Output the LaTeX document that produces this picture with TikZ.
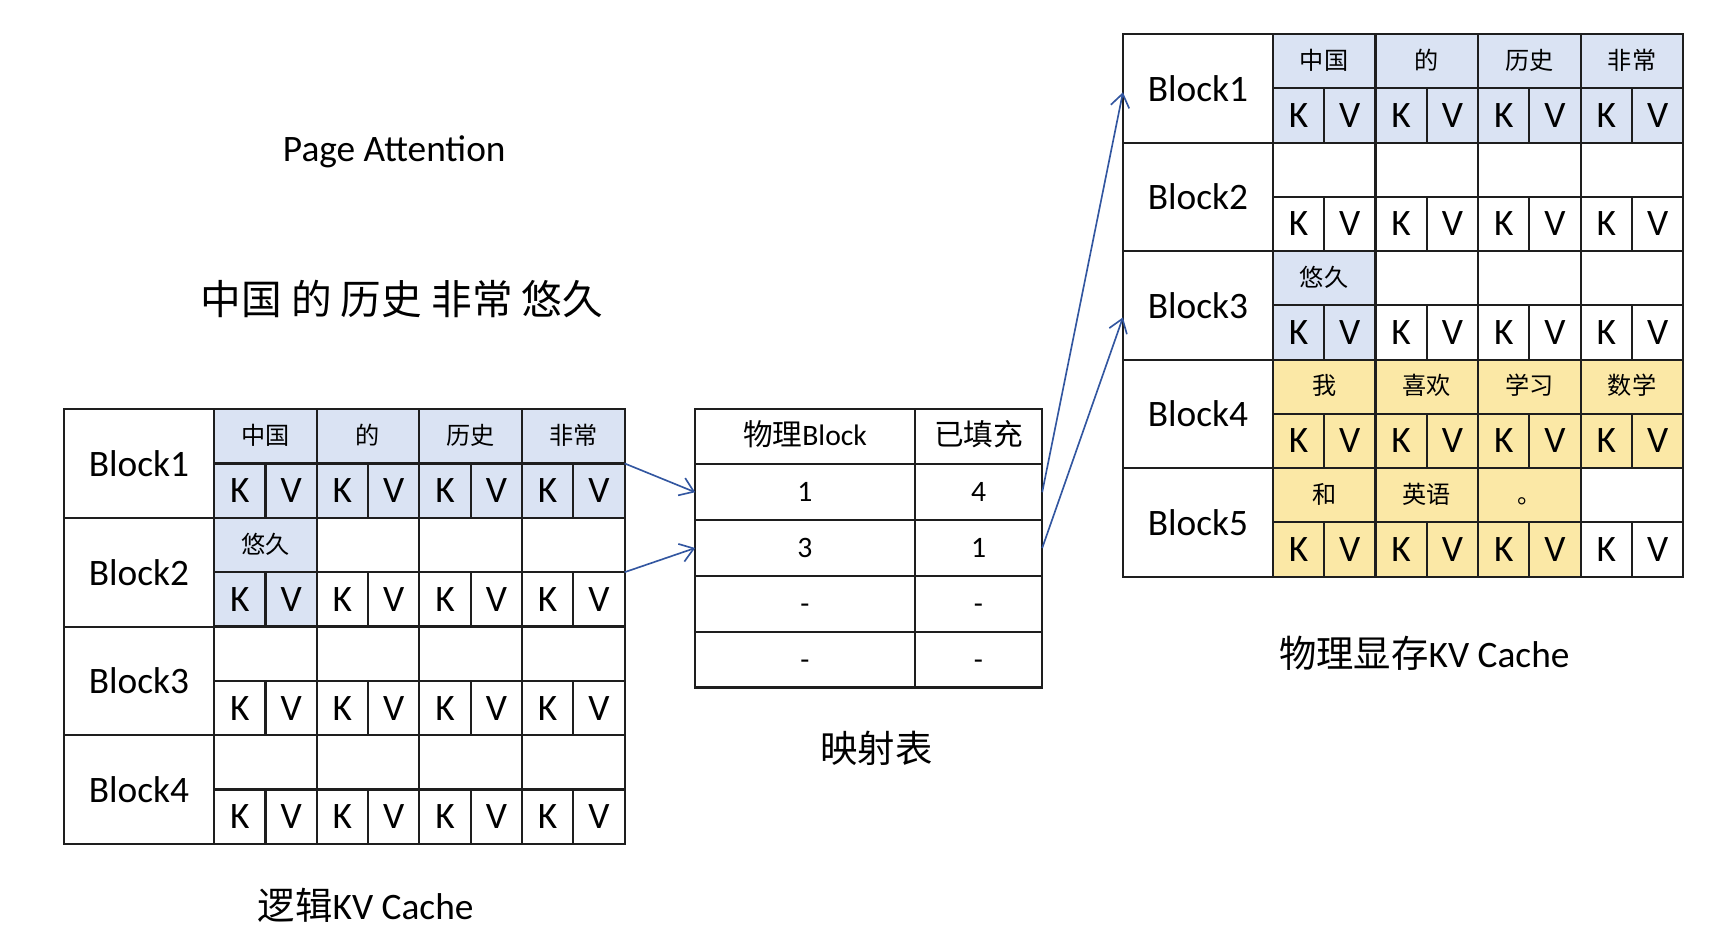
\documentclass[tikz,border=0pt]{standalone}
\usepackage{fontspec}
\setmainfont{Carlito}
\newfontfamily\cjk{Noto Sans CJK SC}
\usetikzlibrary{arrows.meta}
\definecolor{tokblue}{RGB}{218,227,243}
\definecolor{tokyel}{RGB}{251,232,166}
\definecolor{arrowblue}{RGB}{50,86,160}
\definecolor{gridline}{RGB}{30,30,30}
\tikzset{
  cellbase/.style={draw=gridline, line width=0.95pt, inner sep=0pt, outer sep=0pt, anchor=north west},
  labcell/.style={cellbase, minimum width=68.5pt, minimum height=49.5pt, font=\fontsize{17pt}{20pt}\selectfont},
  tokcell/.style={cellbase, minimum width=46.7pt, minimum height=24.7pt, text height=9pt, text depth=1.6pt, font=\fontsize{11pt}{13pt}\selectfont\cjk},
  kvcell/.style={cellbase, minimum width=23.35pt, minimum height=24.7pt, font=\fontsize{17pt}{20pt}\selectfont},
  mapcell/.style={cellbase, minimum height=25.4pt, text height=8.6pt, text depth=0pt, font=\fontsize{13.5pt}{16pt}\selectfont},
  title/.style={inner sep=0pt, font=\fontsize{17pt}{20pt}\selectfont},
  conn/.style={draw=arrowblue, line width=0.75pt, -{Straight Barb[length=6pt,width=8.5pt]}}
}
\newcommand\tokrow[4]{%
  \foreach \tx/\fl [count=\c] in {#4}
    \node[tokcell, fill=\fl] (#1t\c) at ({#2+(\c-1)*93.45},#3) {\tx};}
\newcommand\kvrow[4]{%
  \foreach \fl [count=\j] in {#4}
    \node[kvcell, fill=\fl] (#1k\j) at ({#2+(\j-1)*46.725},#3) {\ifodd\j K\else V\fi};}
\begin{document}
\begin{tikzpicture}[x=0.5pt, y=-0.5pt]
\useasboundingbox (0,0) rectangle (1568,863);

% titles
\node[title] (ttl) at (359,138) {Page Attention};
\node[title, font=\fontsize{18.5pt}{22pt}\selectfont\cjk] (sent) at (366,272) {中国 的 历史 非常 悠久};
\node[title] (lcap) at (333,824) {{\cjk 逻辑}KV Cache};
\node[title, font=\fontsize{17pt}{20pt}\selectfont\cjk] (mcap) at (798,681) {映射表};
\node[title] (rcap) at (1297,595) {{\cjk 物理显存}KV Cache};

% ---------- logical KV cache ----------
\node[labcell] (L1) at (58,372.5) {Block1};
\tokrow{L1}{195}{372.5}{中国/tokblue,的/tokblue,历史/tokblue,非常/tokblue}
\kvrow{L1}{195}{422}{tokblue,tokblue,tokblue,tokblue,tokblue,tokblue,tokblue,tokblue}
\node[labcell] (L2) at (58,471.5) {Block2};
\tokrow{L2}{195}{471.5}{悠久/tokblue,/white,/white,/white}
\kvrow{L2}{195}{521}{tokblue,tokblue,white,white,white,white,white,white}
\node[labcell] (L3) at (58,570.5) {Block3};
\tokrow{L3}{195}{570.5}{/white,/white,/white,/white}
\kvrow{L3}{195}{620}{white,white,white,white,white,white,white,white}
\node[labcell] (L4) at (58,669.5) {Block4};
\tokrow{L4}{195}{669.5}{/white,/white,/white,/white}
\kvrow{L4}{195}{719}{white,white,white,white,white,white,white,white}

% ---------- mapping table ----------
\node[mapcell, minimum width=100pt, text height=10.5pt, text depth=2pt] (M0a) at (633,372) {{\cjk 物理}Block};
\node[mapcell, minimum width=58pt, text height=10.5pt, text depth=2pt] (M0b) at (833,372) {\cjk 已填充};
\foreach \va/\vb [count=\r] in {1/4,3/1,-/-,-/-}{
  \node[mapcell, minimum width=100pt] (M\r a) at (633,{372+\r*50.8}) {\va};
  \node[mapcell, minimum width=58pt] (M\r b) at (833,{372+\r*50.8}) {\vb};
}

% ---------- physical KV cache ----------
\node[labcell, minimum width=68.25pt, minimum height=49.4pt] (R1) at (1022.5,31) {Block1};
\tokrow{R1}{1159}{31}{中国/tokblue,的/tokblue,历史/tokblue,非常/tokblue}
\kvrow{R1}{1159}{80.4}{tokblue,tokblue,tokblue,tokblue,tokblue,tokblue,tokblue,tokblue}
\node[labcell, minimum width=68.25pt, minimum height=49.4pt] (R2) at (1022.5,129.8) {Block2};
\tokrow{R2}{1159}{129.8}{/white,/white,/white,/white}
\kvrow{R2}{1159}{179.2}{white,white,white,white,white,white,white,white}
\node[labcell, minimum width=68.25pt, minimum height=49.4pt] (R3) at (1022.5,228.6) {Block3};
\tokrow{R3}{1159}{228.6}{悠久/tokblue,/white,/white,/white}
\kvrow{R3}{1159}{278}{tokblue,tokblue,white,white,white,white,white,white}
\node[labcell, minimum width=68.25pt, minimum height=49.4pt] (R4) at (1022.5,327.4) {Block4};
\tokrow{R4}{1159}{327.4}{我/tokyel,喜欢/tokyel,学习/tokyel,数学/tokyel}
\kvrow{R4}{1159}{376.8}{tokyel,tokyel,tokyel,tokyel,tokyel,tokyel,tokyel,tokyel}
\node[labcell, minimum width=68.25pt, minimum height=49.4pt] (R5) at (1022.5,426.2) {Block5};
\tokrow{R5}{1159}{426.2}{和/tokyel,英语/tokyel,。/tokyel,/white}
\kvrow{R5}{1159}{475.6}{tokyel,tokyel,tokyel,tokyel,tokyel,tokyel,white,white}

% ---------- connectors ----------
\draw[conn] (L1k8.north east) -- (M1a.west);
\draw[conn] (L2k8.north east) -- (M2a.west);
\draw[conn] (M1b.east) -- ([yshift=-1.8pt]R1.west);
\draw[conn] (M2b.east) -- ([yshift=-5.5pt]R3.west);
\end{tikzpicture}
\end{document}
